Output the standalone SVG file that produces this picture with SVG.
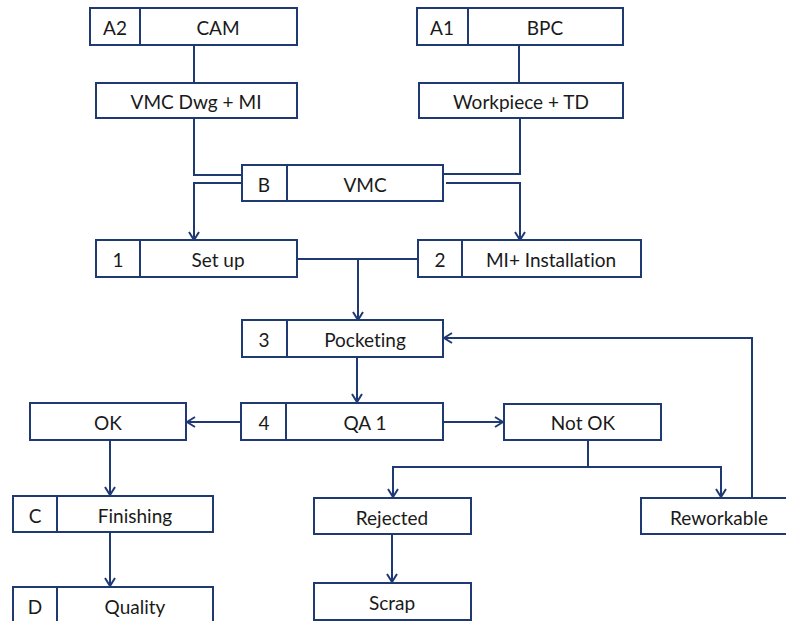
<svg xmlns="http://www.w3.org/2000/svg" width="786" height="621" viewBox="0 0 786 621">
  <style>
    .box { fill: #ffffff; stroke: #1f3a73; stroke-width: 2; }
    .div { stroke: #1f3a73; stroke-width: 2; }
    .lbl { font-family: Lato, "Open Sans", "Liberation Sans", sans-serif; font-size: 19px; fill: #1a1a1a; text-anchor: middle; dominant-baseline: central; font-variant-ligatures: none; }
    .wire { fill: none; stroke: #1f3a73; stroke-width: 2; }
  </style>
  <defs>
    <marker id="arrow" viewBox="0 0 10 12" refX="9" refY="6" markerWidth="10" markerHeight="12" markerUnits="userSpaceOnUse" orient="auto">
      <path d="M1,1 L9,6 L1,11" fill="none" stroke="#1f3a73" stroke-width="2"/>
    </marker>
  </defs>

  <rect width="786" height="621" fill="#ffffff"/>

  <!-- connectors -->
  <g id="connectors">
    <path class="wire" d="M194,45 V83"/>
    <path class="wire" d="M519,45 V83"/>
    <path class="wire" d="M194,118 V175 H242"/>
    <path class="wire" d="M520,118 V174 H443"/>
    <path class="wire" d="M242,183 H194 V240" marker-end="url(#arrow)"/>
    <path class="wire" d="M446,183 H520 V240" marker-end="url(#arrow)"/>
    <path class="wire" d="M297,259 H418"/>
    <path class="wire" d="M358,259 V320" marker-end="url(#arrow)"/>
    <path class="wire" d="M357,357 V402" marker-end="url(#arrow)"/>
    <path class="wire" d="M241,422 H187" marker-end="url(#arrow)"/>
    <path class="wire" d="M443,422 H503" marker-end="url(#arrow)"/>
    <path class="wire" d="M110,440 V495" marker-end="url(#arrow)"/>
    <path class="wire" d="M110,532 V586" marker-end="url(#arrow)"/>
    <path class="wire" d="M588,440 V467"/>
    <path class="wire" d="M588,467 H393 V497" marker-end="url(#arrow)"/>
    <path class="wire" d="M588,467 H721 V497" marker-end="url(#arrow)"/>
    <path class="wire" d="M392,534 V582" marker-end="url(#arrow)"/>
    <path class="wire" d="M752,498 V338 H444" marker-end="url(#arrow)"/>
  </g>

  <!-- nodes -->
  <g id="node-a2-cam">
    <rect class="box" x="90" y="8" width="207" height="37"/>
    <line class="div" x1="140" y1="8" x2="140" y2="45"/>
    <text class="lbl" x="115" y="27">A2</text>
    <text class="lbl" x="218" y="27">CAM</text>
  </g>
  <g id="node-a1-bpc">
    <rect class="box" x="417" y="8" width="206" height="37"/>
    <line class="div" x1="468" y1="8" x2="468" y2="45"/>
    <text class="lbl" x="442" y="27">A1</text>
    <text class="lbl" x="545" y="27">BPC</text>
  </g>
  <g id="node-vmc-dwg">
    <rect class="box" x="96" y="83" width="201" height="35"/>
    <text class="lbl" x="196" y="101">VMC Dwg + MI</text>
  </g>
  <g id="node-workpiece">
    <rect class="box" x="419" y="83" width="204" height="35"/>
    <text class="lbl" x="521" y="101">Workpiece + TD</text>
  </g>
  <g id="node-b-vmc">
    <rect class="box" x="242" y="165" width="201" height="36"/>
    <line class="div" x1="287" y1="165" x2="287" y2="201"/>
    <text class="lbl" x="264" y="184">B</text>
    <text class="lbl" x="365" y="184">VMC</text>
  </g>
  <g id="node-1-setup">
    <rect class="box" x="96" y="240" width="201" height="37"/>
    <line class="div" x1="140" y1="240" x2="140" y2="277"/>
    <text class="lbl" x="118" y="259">1</text>
    <text class="lbl" x="218" y="259">Set up</text>
  </g>
  <g id="node-2-mi-installation">
    <rect class="box" x="418" y="240" width="223" height="37"/>
    <line class="div" x1="462" y1="240" x2="462" y2="277"/>
    <text class="lbl" x="440" y="259">2</text>
    <text class="lbl" x="551" y="259">MI+ Installation</text>
  </g>
  <g id="node-3-pocketing">
    <rect class="box" x="242" y="320" width="201" height="37"/>
    <line class="div" x1="287" y1="320" x2="287" y2="357"/>
    <text class="lbl" x="264" y="339">3</text>
    <text class="lbl" x="365" y="339">Pocketing</text>
  </g>
  <g id="node-4-qa1">
    <rect class="box" x="241" y="403" width="202" height="37"/>
    <line class="div" x1="286" y1="403" x2="286" y2="440"/>
    <text class="lbl" x="264" y="422">4</text>
    <text class="lbl" x="365" y="422">QA 1</text>
  </g>
  <g id="node-ok">
    <rect class="box" x="30" y="403" width="156" height="37"/>
    <text class="lbl" x="108" y="422">OK</text>
  </g>
  <g id="node-not-ok">
    <rect class="box" x="504" y="404" width="157" height="36"/>
    <text class="lbl" x="583" y="422">Not OK</text>
  </g>
  <g id="node-c-finishing">
    <rect class="box" x="13" y="496" width="200" height="36"/>
    <line class="div" x1="57" y1="496" x2="57" y2="532"/>
    <text class="lbl" x="35" y="515">C</text>
    <text class="lbl" x="135" y="515">Finishing</text>
  </g>
  <g id="node-d-quality">
    <rect class="box" x="13" y="587" width="200" height="37"/>
    <line class="div" x1="57" y1="587" x2="57" y2="624"/>
    <text class="lbl" x="35" y="606">D</text>
    <text class="lbl" x="135" y="606">Quality</text>
  </g>
  <g id="node-rejected">
    <rect class="box" x="314" y="498" width="157" height="36"/>
    <text class="lbl" x="392" y="517">Rejected</text>
  </g>
  <g id="node-scrap">
    <rect class="box" x="314" y="583" width="157" height="37"/>
    <text class="lbl" x="392" y="602">Scrap</text>
  </g>
  <g id="node-reworkable">
    <rect class="box" x="641" y="498" width="156" height="36"/>
    <text class="lbl" x="719" y="517">Reworkable</text>
  </g>
</svg>
